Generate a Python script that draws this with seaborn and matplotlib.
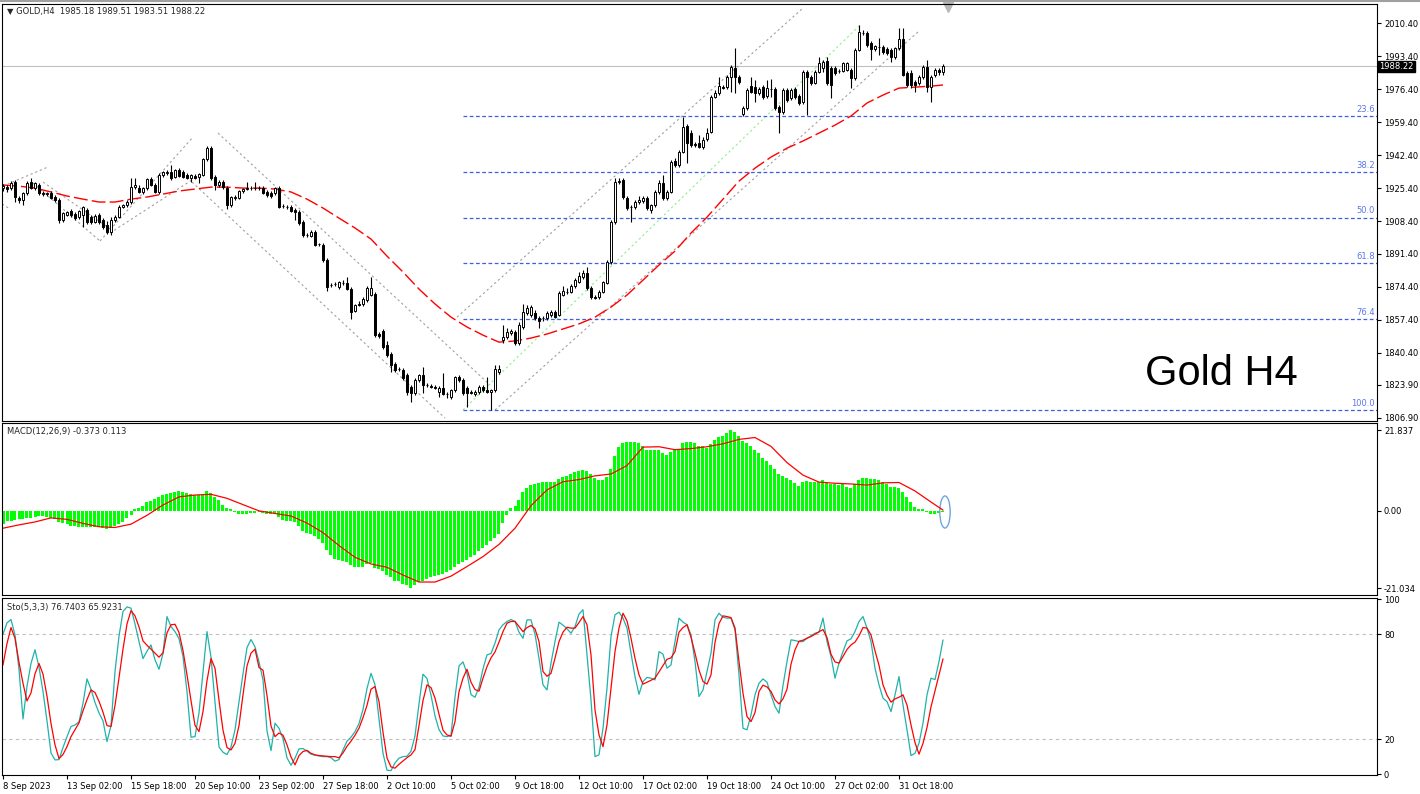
import numpy as np
import pandas as pd
import matplotlib
matplotlib.use("Agg")
import matplotlib.pyplot as plt
import matplotlib.transforms as mtransforms
from matplotlib.patches import Ellipse
from matplotlib.lines import Line2D
import seaborn as sns

# ---- GOLD H4 candles ----
opens = [1925.4, 1925.9, 1925.4, 1928.5, 1920.3, 1919.2, 1922.8, 1928.5, 1925.4, 1927.0,
         1922.8, 1922.3, 1922.8, 1920.8, 1919.2, 1908.9, 1911.5, 1913.6, 1912.0, 1910.5,
         1911.5, 1914.1, 1910.5, 1907.9, 1911.5, 1908.9, 1906.3, 1902.7, 1908.9, 1910.5,
         1915.6, 1916.6, 1918.2, 1925.9, 1925.4, 1923.3, 1925.4, 1930.1, 1927.0, 1923.3,
         1932.1, 1933.2, 1933.7, 1931.1, 1934.7, 1933.7, 1932.1, 1930.6, 1931.6, 1931.1,
         1932.1, 1940.4, 1946.1, 1931.1, 1927.0, 1928.5, 1925.4, 1916.6, 1920.3, 1920.3,
         1923.9, 1924.9, 1925.4, 1925.4, 1925.2, 1925.4, 1923.3, 1922.8, 1922.8, 1925.4,
         1916.1, 1915.6, 1915.6, 1914.1, 1913.0, 1907.9, 1901.2, 1900.6, 1902.7, 1896.5,
         1896.0, 1888.3, 1875.4, 1875.9, 1874.3, 1876.4, 1876.4, 1873.3, 1861.9, 1865.6,
         1865.6, 1867.6, 1870.2, 1870.7, 1850.1, 1851.6, 1844.4, 1839.8, 1834.6, 1832.0,
         1831.5, 1828.9, 1822.7, 1819.6, 1826.3, 1828.9, 1823.8, 1823.3, 1822.7, 1820.1,
         1822.2, 1819.1, 1817.6, 1821.2, 1827.9, 1826.3, 1822.2, 1820.1, 1819.1, 1820.1,
         1822.7, 1821.2, 1820.1, 1821.2, 1830.5, 1847.0, 1848.5, 1850.6, 1851.1, 1845.4,
         1853.7, 1860.9, 1859.9, 1860.9, 1858.3, 1858.3, 1858.3, 1859.9, 1861.4, 1859.9,
         1870.2, 1871.7, 1871.7, 1874.8, 1876.9, 1879.5, 1881.6, 1873.8, 1869.2, 1869.2,
         1871.7, 1876.4, 1887.2, 1907.9, 1928.5, 1929.5, 1920.3, 1915.6, 1915.6, 1918.2,
         1918.7, 1920.3, 1914.1, 1916.6, 1923.3, 1928.0, 1920.3, 1923.3, 1939.3, 1937.3,
         1944.0, 1957.4, 1953.8, 1948.1, 1948.6, 1946.6, 1950.7, 1954.3, 1972.4, 1974.4,
         1977.5, 1977.5, 1982.7, 1987.3, 1982.7, 1963.6, 1966.7, 1978.0, 1977.5, 1974.4,
         1977.5, 1972.9, 1976.5, 1976.5, 1967.2, 1964.6, 1976.0, 1971.9, 1976.5, 1972.9,
         1969.8, 1985.3, 1982.7, 1979.6, 1985.3, 1987.3, 1990.9, 1987.3, 1987.3, 1985.8,
         1985.8, 1986.3, 1986.3, 1982.2, 1996.6, 2005.4, 2005.4, 2000.2, 1997.1, 1998.2,
         1998.2, 1997.1, 1996.6, 1993.0, 1997.7, 2002.3, 1984.8, 1984.8, 1980.1, 1979.6,
         1982.7, 1987.8, 1977.5, 1983.7, 1986.3, 1985.18]
highs = [1927.5, 1927.0, 1929.0, 1929.5, 1921.3, 1923.3, 1929.0, 1930.6, 1928.5, 1928.0,
         1923.9, 1923.3, 1923.9, 1921.8, 1920.3, 1913.0, 1913.6, 1914.6, 1913.0, 1914.1,
         1916.1, 1915.1, 1911.5, 1912.0, 1912.5, 1909.9, 1908.4, 1910.5, 1911.5, 1916.6,
         1917.2, 1919.2, 1930.6, 1930.6, 1927.0, 1925.9, 1930.6, 1931.1, 1928.0, 1933.2,
         1934.2, 1934.7, 1937.3, 1935.2, 1935.7, 1934.7, 1933.2, 1932.6, 1932.6, 1933.2,
         1940.9, 1947.1, 1947.1, 1932.1, 1929.5, 1929.5, 1926.4, 1921.3, 1921.8, 1924.4,
         1925.4, 1928.5, 1926.4, 1928.5, 1926.4, 1926.4, 1924.4, 1923.9, 1925.9, 1926.4,
         1917.2, 1916.6, 1916.6, 1915.1, 1914.1, 1908.9, 1902.2, 1903.7, 1903.7, 1897.0,
         1897.0, 1889.3, 1876.4, 1876.9, 1877.4, 1877.9, 1879.5, 1874.3, 1865.6, 1867.1,
         1869.2, 1874.8, 1879.5, 1871.7, 1851.1, 1852.7, 1846.5, 1840.8, 1835.6, 1833.0,
         1832.5, 1829.9, 1823.8, 1827.4, 1829.4, 1833.0, 1824.8, 1824.3, 1823.8, 1823.3,
         1829.9, 1820.1, 1821.7, 1828.4, 1828.9, 1827.4, 1823.3, 1821.2, 1821.2, 1823.8,
         1823.8, 1827.9, 1821.7, 1834.1, 1834.1, 1854.7, 1853.2, 1852.7, 1852.1, 1856.3,
         1865.6, 1865.0, 1865.0, 1862.5, 1859.4, 1859.4, 1861.9, 1862.5, 1862.5, 1872.3,
         1874.8, 1873.8, 1875.9, 1879.0, 1882.1, 1883.1, 1884.6, 1874.8, 1870.2, 1872.8,
         1877.4, 1888.3, 1908.9, 1930.6, 1930.6, 1930.6, 1921.3, 1916.6, 1919.2, 1921.3,
         1921.3, 1921.3, 1917.2, 1924.4, 1929.5, 1932.1, 1924.4, 1939.9, 1940.9, 1945.0,
         1962.0, 1958.4, 1955.3, 1949.2, 1952.8, 1951.7, 1956.4, 1973.4, 1976.0, 1982.7,
         1978.6, 1983.7, 1988.9, 1997.7, 1983.7, 1967.7, 1977.0, 1982.7, 1981.2, 1977.5,
         1978.6, 1981.2, 1981.7, 1977.5, 1968.2, 1977.0, 1977.0, 1977.0, 1977.5, 1973.9,
         1986.3, 1986.3, 1983.7, 1986.3, 1993.0, 1991.4, 1993.0, 1988.4, 1988.4, 1986.8,
         1990.4, 1990.4, 1987.3, 1997.7, 2009.5, 2006.9, 2006.4, 2001.3, 1999.2, 2002.8,
         1999.2, 1998.2, 1997.7, 1998.2, 2008.0, 2008.0, 1985.8, 1986.3, 1981.2, 1983.7,
         1988.9, 1991.4, 1983.7, 1987.3, 1987.3, 1989.51]
lows = [1923.9, 1923.3, 1924.4, 1918.2, 1917.7, 1916.6, 1921.8, 1924.9, 1924.4, 1921.8,
        1921.3, 1921.3, 1919.7, 1918.2, 1907.4, 1907.9, 1911.0, 1910.5, 1908.9, 1909.4,
        1905.3, 1906.8, 1906.8, 1907.4, 1906.8, 1904.3, 1901.7, 1901.2, 1907.9, 1909.9,
        1915.1, 1915.6, 1917.2, 1924.9, 1922.8, 1922.3, 1924.4, 1926.4, 1922.8, 1922.3,
        1931.1, 1932.1, 1929.5, 1930.6, 1931.1, 1930.6, 1930.1, 1928.5, 1930.1, 1928.0,
        1931.6, 1939.3, 1929.5, 1924.4, 1925.9, 1924.9, 1914.6, 1915.6, 1919.2, 1919.7,
        1922.8, 1924.4, 1924.4, 1924.4, 1924.4, 1922.3, 1920.8, 1920.3, 1921.8, 1915.1,
        1915.1, 1914.6, 1913.0, 1908.9, 1906.3, 1900.1, 1900.1, 1900.1, 1895.5, 1895.5,
        1887.2, 1872.3, 1874.3, 1874.8, 1873.3, 1875.4, 1872.8, 1857.8, 1861.4, 1864.5,
        1864.5, 1866.6, 1869.7, 1848.5, 1848.0, 1842.3, 1838.2, 1830.5, 1830.5, 1831.0,
        1826.3, 1818.6, 1815.0, 1818.6, 1825.3, 1819.6, 1822.7, 1822.2, 1821.7, 1817.6,
        1818.6, 1817.0, 1816.5, 1820.1, 1825.3, 1818.6, 1812.4, 1819.1, 1818.1, 1819.1,
        1820.1, 1819.6, 1810.9, 1820.1, 1829.4, 1845.4, 1847.5, 1849.6, 1844.4, 1844.4,
        1852.7, 1859.9, 1858.8, 1857.3, 1853.2, 1856.8, 1857.3, 1858.8, 1858.3, 1859.4,
        1869.7, 1870.7, 1871.2, 1873.8, 1876.4, 1878.5, 1872.8, 1868.1, 1868.1, 1868.1,
        1871.2, 1875.9, 1886.2, 1906.8, 1927.5, 1919.7, 1914.1, 1907.9, 1914.6, 1917.2,
        1917.7, 1914.1, 1912.5, 1915.6, 1922.3, 1919.2, 1919.2, 1922.8, 1936.3, 1936.3,
        1943.5, 1938.3, 1946.6, 1946.6, 1946.1, 1945.5, 1949.7, 1953.8, 1971.9, 1973.4,
        1976.5, 1976.5, 1975.0, 1974.4, 1979.1, 1962.6, 1965.7, 1974.4, 1969.8, 1973.4,
        1971.3, 1971.9, 1972.4, 1965.7, 1953.8, 1963.6, 1969.8, 1970.8, 1971.3, 1968.2,
        1968.8, 1963.1, 1978.6, 1979.1, 1984.8, 1985.3, 1978.6, 1971.9, 1983.7, 1984.8,
        1985.3, 1985.8, 1977.0, 1981.2, 1996.1, 2004.4, 1998.2, 1991.4, 1996.1, 1994.0,
        1994.6, 1994.0, 1990.4, 1992.0, 1996.6, 1983.2, 1977.5, 1977.0, 1975.0, 1978.6,
        1981.7, 1975.0, 1969.8, 1982.7, 1983.7, 1983.51]
closes = [1926.4, 1924.9, 1928.0, 1920.8, 1919.2, 1922.8, 1928.0, 1925.4, 1928.0, 1922.8,
          1922.3, 1922.8, 1920.3, 1919.2, 1908.9, 1912.5, 1913.0, 1911.5, 1909.9, 1913.6,
          1915.6, 1907.9, 1907.9, 1911.0, 1907.9, 1905.3, 1902.7, 1908.9, 1910.5, 1915.6,
          1916.6, 1918.2, 1925.9, 1927.0, 1923.3, 1925.4, 1930.1, 1927.0, 1923.3, 1932.1,
          1933.7, 1933.7, 1930.6, 1934.7, 1931.6, 1931.1, 1930.6, 1932.1, 1930.6, 1932.6,
          1940.4, 1946.1, 1930.6, 1927.0, 1928.5, 1925.9, 1916.6, 1920.8, 1920.8, 1923.9,
          1924.9, 1925.4, 1925.6, 1925.2, 1925.6, 1922.8, 1921.8, 1921.3, 1925.4, 1915.6,
          1915.9, 1915.4, 1913.6, 1913.0, 1907.4, 1901.2, 1901.0, 1902.7, 1896.0, 1896.3,
          1888.3, 1874.3, 1875.2, 1875.7, 1876.9, 1876.2, 1873.3, 1861.4, 1865.0, 1865.3,
          1868.1, 1873.8, 1873.8, 1849.6, 1849.0, 1843.4, 1839.3, 1834.1, 1831.5, 1831.8,
          1827.4, 1820.1, 1819.6, 1826.3, 1828.9, 1823.8, 1823.6, 1822.7, 1822.2, 1822.2,
          1819.1, 1818.9, 1821.2, 1827.9, 1826.3, 1819.6, 1819.6, 1819.9, 1820.1, 1822.7,
          1821.2, 1820.1, 1821.2, 1832.0, 1832.0, 1848.5, 1851.1, 1851.6, 1845.4, 1854.7,
          1861.4, 1863.5, 1864.0, 1858.3, 1856.8, 1858.1, 1860.9, 1861.4, 1858.8, 1871.2,
          1872.3, 1871.9, 1874.8, 1877.9, 1880.0, 1881.6, 1873.8, 1869.2, 1868.7, 1871.7,
          1876.9, 1887.2, 1907.9, 1928.5, 1929.0, 1920.8, 1915.1, 1915.4, 1918.2, 1919.2,
          1920.3, 1915.1, 1916.6, 1923.3, 1928.0, 1920.3, 1923.3, 1938.8, 1937.3, 1944.0,
          1956.9, 1948.6, 1947.6, 1947.4, 1946.6, 1950.2, 1953.8, 1972.4, 1974.4, 1978.0,
          1977.3, 1982.7, 1987.8, 1982.7, 1980.1, 1966.7, 1976.0, 1975.0, 1974.4, 1976.5,
          1972.4, 1977.0, 1976.3, 1966.7, 1964.6, 1976.0, 1970.8, 1976.0, 1972.4, 1969.3,
          1985.3, 1982.7, 1979.6, 1985.3, 1989.9, 1990.4, 1979.6, 1978.6, 1984.8, 1985.6,
          1989.9, 1989.9, 1982.2, 1996.6, 2005.9, 2005.2, 1999.2, 1997.1, 1998.7, 1998.0,
          1995.6, 1995.1, 1993.0, 1997.7, 2002.3, 1983.7, 1978.6, 1978.6, 1978.6, 1982.7,
          1987.8, 1977.5, 1982.7, 1986.3, 1985.2, 1988.22]

# moving average (red dashed), read every 4th bar + last bar
ma_values = [1927.0, 1926.4, 1925.4, 1923.4, 1921.3, 1919.7, 1918.2, 1918.2, 1919.7, 1920.8,
             1922.3, 1923.9, 1924.9, 1925.9, 1925.9, 1925.4, 1925.4, 1924.9, 1923.4, 1919.7,
             1915.1, 1909.9, 1904.8, 1899.1, 1890.3, 1882.1, 1873.3, 1865.6, 1858.8, 1853.7,
             1849.5, 1845.9, 1846.5, 1848.0, 1850.1, 1852.7, 1855.3, 1858.8, 1864.0, 1870.2,
             1877.9, 1885.7, 1892.9, 1902.2, 1910.4, 1919.7, 1929.0, 1935.7, 1941.4, 1946.0,
             1949.7, 1953.8, 1957.9, 1962.6, 1969.3, 1973.4, 1977.0, 1977.5, 1978.0, 1978.6]

# MACD(12,26,9)
macd_hist = [-3.7, -2.8, -2.8, -2.6, -2.3, -2.2, -2.0, -1.9, -1.7, -1.6,
             -1.6, -1.8, -1.9, -2.2, -3.0, -3.4, -3.7, -4.1, -4.3, -4.5,
             -4.5, -4.6, -4.6, -4.6, -4.5, -4.8, -5.1, -4.8, -4.3, -3.7,
             -3.0, -2.0, -1.2, 0.4, 0.6, 1.3, 2.2, 2.6, 3.1, 3.6,
             4.2, 4.5, 4.7, 5.0, 5.2, 5.0, 4.7, 4.5, 4.3, 4.1,
             4.5, 5.4, 4.7, 3.6, 2.9, 1.5, 0.6, 0.4, -0.3, -0.9,
             -1.0, -0.9, -0.7, -0.7, -0.5, -0.7, -0.9, -1.0, -0.9, -1.8,
             -2.5, -2.8, -2.9, -3.2, -4.3, -5.6, -6.2, -6.5, -7.0, -7.7,
             -8.8, -10.8, -12.2, -13.1, -13.5, -13.8, -14.0, -14.9, -15.3, -15.3,
             -15.2, -14.5, -14.2, -15.6, -15.8, -16.5, -17.4, -18.1, -19.0, -19.2,
             -19.9, -20.3, -21.0, -20.1, -19.4, -19.0, -18.6, -18.1, -17.8, -17.6,
             -17.2, -16.7, -16.2, -15.2, -14.5, -14.1, -13.4, -12.6, -12.0, -11.1,
             -10.1, -9.3, -8.4, -7.5, -6.4, -3.3, -1.2, 0.6, 1.2, 2.9,
             4.9, 6.0, 6.9, 7.2, 7.4, 7.6, 7.6, 7.8, 7.6, 8.5,
             9.0, 9.3, 9.9, 10.4, 10.8, 11.0, 10.8, 9.9, 8.8, 8.3,
             8.3, 9.0, 11.3, 14.9, 17.2, 18.3, 18.5, 18.5, 18.5, 18.2,
             17.6, 16.5, 16.4, 16.3, 16.3, 15.5, 15.1, 15.8, 16.3, 16.4,
             18.2, 18.7, 18.5, 18.2, 17.6, 17.4, 16.9, 18.1, 19.0, 19.9,
             20.3, 20.9, 21.8, 21.2, 20.3, 18.8, 18.3, 17.4, 16.3, 15.5,
             14.2, 13.3, 12.3, 11.2, 9.8, 9.4, 8.7, 8.3, 7.5, 6.7,
             7.6, 8.0, 7.8, 7.8, 7.8, 8.3, 7.5, 7.3, 7.3, 7.0,
             7.3, 6.5, 6.0, 7.1, 8.2, 8.8, 8.8, 8.6, 8.6, 8.3,
             7.8, 7.2, 6.5, 6.5, 6.2, 5.0, 3.7, 2.3, 1.0, 0.5,
             0.3, -0.5, -1.0, -1.0, -0.7, -0.373]
# signal line, read every 4th bar + last bar
macd_signal = [-4.8, -3.9, -3.1, -2.0, -2.4, -3.5, -4.4, -4.6, -3.7, -1.3,
               1.5, 3.7, 4.2, 4.4, 3.3, 1.6, -0.1, -0.8, -1.5, -3.4,
               -6.0, -9.5, -12.7, -14.5, -15.4, -17.5, -19.4, -19.4, -17.8, -15.2,
               -12.5, -9.2, -4.8, 1.3, 5.6, 7.8, 8.4, 9.4, 9.9, 12.2,
               17.2, 17.3, 16.5, 16.8, 17.3, 18.1, 19.3, 19.8, 17.4, 13.0,
               9.6, 7.7, 7.4, 7.2, 6.9, 7.5, 7.6, 5.3, 2.3, 0.113]

# Stochastic(5,3,3)
stoch_main = [80.0, 86.5, 88.4, 79.6, 59.8, 31.6, 50.3, 63.3, 71.1, 61.2,
              47.3, 30.5, 12.2, 8.2, 8.4, 15.3, 21.5, 27.3, 28.2, 29.9,
              40.6, 54.5, 48.6, 41.0, 35.1, 30.5, 18.7, 27.8, 58.7, 78.9,
              93.0, 95.6, 94.9, 85.9, 75.8, 66.1, 70.3, 73.9, 65.4, 60.0,
              69.0, 90.1, 84.4, 81.5, 77.5, 67.3, 47.1, 21.2, 21.5, 35.1,
              58.3, 81.5, 66.9, 41.5, 15.6, 12.6, 11.3, 15.6, 25.4, 41.4,
              57.4, 72.4, 77.0, 72.8, 64.2, 53.9, 24.8, 13.5, 29.2, 26.3,
              20.4, 9.4, 5.2, 9.2, 14.5, 14.7, 13.2, 11.5, 10.9, 10.5,
              10.1, 10.1, 9.5, 7.5, 8.4, 13.9, 18.9, 21.2, 24.4, 29.0,
              37.0, 49.0, 57.7, 51.1, 31.3, 12.0, 2.3, 2.1, 6.5, 9.2,
              10.1, 10.3, 13.2, 21.9, 40.2, 57.2, 54.7, 45.2, 33.4, 25.5,
              21.9, 21.5, 22.3, 44.0, 61.9, 64.2, 57.7, 45.5, 44.0, 49.7,
              60.2, 68.2, 69.0, 74.9, 82.5, 85.4, 87.3, 88.4, 87.3, 81.2,
              77.7, 88.2, 88.2, 80.0, 66.3, 51.1, 48.2, 63.5, 75.8, 86.9,
              85.2, 83.1, 80.6, 84.4, 91.5, 94.0, 68.2, 42.5, 10.1, 11.1,
              26.3, 49.2, 78.7, 91.1, 92.6, 89.2, 83.5, 69.2, 55.8, 45.7,
              53.0, 55.3, 54.9, 53.9, 70.1, 68.6, 60.6, 62.5, 75.8, 89.2,
              86.9, 85.5, 79.6, 64.4, 44.4, 48.2, 58.7, 69.2, 88.2, 92.0,
              89.7, 89.2, 89.2, 82.5, 56.8, 26.3, 25.4, 33.9, 45.4, 52.0,
              54.5, 52.6, 45.4, 38.7, 34.9, 50.7, 64.4, 76.8, 76.4, 75.8,
              75.8, 77.7, 79.1, 80.6, 81.2, 89.2, 75.8, 67.3, 54.9, 63.5,
              70.1, 76.2, 77.4, 81.5, 87.3, 90.1, 83.5, 75.8, 60.6, 51.1,
              43.5, 41.5, 35.8, 45.4, 55.8, 39.6, 25.4, 10.7, 12.0, 17.7,
              29.2, 45.4, 54.9, 54.1, 64.4, 76.74]
stoch_signal = [62.5, 74.7, 83.8, 77.7, 64.0, 52.0, 41.9, 46.5, 57.4, 63.3,
                57.2, 44.6, 29.0, 16.8, 9.0, 11.3, 15.8, 21.5, 25.4, 29.4,
                36.2, 42.7, 48.2, 46.7, 41.7, 35.5, 27.8, 27.3, 39.3, 55.1,
                71.5, 85.9, 93.5, 90.5, 84.2, 76.2, 73.7, 71.5, 69.2, 66.9,
                69.4, 80.8, 85.4, 85.7, 81.0, 70.7, 56.8, 42.1, 28.0, 24.4,
                35.8, 53.5, 66.1, 60.6, 42.3, 25.2, 15.3, 13.9, 17.7, 27.8,
                45.4, 61.9, 69.2, 71.5, 61.0, 59.5, 45.0, 27.6, 21.5, 23.6,
                22.3, 16.8, 9.9, 5.4, 10.7, 13.0, 13.7, 12.0, 11.1, 10.7,
                10.5, 10.3, 10.1, 10.1, 9.4, 12.2, 16.0, 18.9, 22.3, 26.3,
                32.4, 39.4, 48.6, 50.1, 41.5, 24.0, 9.4, 4.2, 3.5, 5.7,
                7.6, 9.5, 11.1, 14.1, 27.8, 42.1, 51.1, 49.5, 43.5, 34.3,
                25.2, 22.5, 21.7, 30.1, 47.1, 54.9, 60.0, 52.6, 48.4, 47.5,
                54.9, 61.5, 66.5, 69.9, 75.5, 81.5, 86.3, 87.3, 87.3, 84.4,
                81.5, 83.8, 85.0, 83.1, 75.8, 58.7, 56.0, 57.7, 66.3, 75.8,
                81.2, 84.0, 83.5, 83.5, 86.7, 90.1, 85.4, 68.2, 36.8, 22.5,
                15.8, 28.2, 49.2, 70.1, 83.5, 92.0, 87.6, 77.7, 66.3, 56.8,
                51.5, 52.6, 53.7, 54.9, 58.5, 62.1, 65.7, 66.5, 70.1, 81.2,
                83.8, 85.4, 78.3, 69.2, 59.5, 53.0, 51.5, 56.8, 75.3, 86.1,
                90.5, 90.1, 89.5, 83.6, 64.4, 46.3, 33.0, 30.1, 35.3, 47.3,
                50.9, 49.9, 47.3, 42.5, 40.2, 43.1, 48.6, 62.9, 71.1, 76.0,
                76.6, 77.7, 78.7, 80.0, 81.4, 82.7, 78.1, 68.6, 64.2, 63.5,
                67.3, 71.3, 73.9, 75.5, 79.1, 83.8, 83.5, 79.6, 70.5, 62.3,
                51.1, 45.2, 41.2, 43.1, 44.0, 45.4, 39.6, 28.2, 18.1, 11.5,
                17.7, 26.7, 38.5, 47.6, 56.8, 65.92]

date_labels = ['8 Sep 2023', '13 Sep 02:00', '15 Sep 18:00', '20 Sep 10:00', '23 Sep 02:00',
               '27 Sep 18:00', '2 Oct 10:00', '5 Oct 02:00', '9 Oct 18:00', '12 Oct 10:00',
               '17 Oct 02:00', '19 Oct 18:00', '24 Oct 10:00', '27 Oct 02:00', '31 Oct 18:00']
price_ticks = [2010.40, 1993.40, 1976.40, 1959.40, 1942.40, 1925.40, 1908.40,
               1891.40, 1874.40, 1857.40, 1840.40, 1823.90, 1806.90]
last_price = 1988.22

# fibonacci retracement anchors (bar, price)
fib_ratios = [23.6, 38.2, 50.0, 61.8, 76.4, 100.0]
fib_low, fib_high = 1810.9, 2009.5
fib_start_bar, fib_end_bar = 115, 214.25

# channel lines drawn on the chart: (bar0, price0, bar1, price1)
channels = [(0, 1926.4, 11.25, 1936.3), (7.5, 1928.0, 24.25, 1898.1),
            (-0.25, 1917.2, 1.75, 1914.6), (10.0, 1928.5, 27.25, 1903.7),
            (24.25, 1898.1, 47.5, 1951.7), (26.75, 1902.2, 48.0, 1930.6),
            (53.75, 1953.8, 121.75, 1823.8), (47.25, 1928.5, 110.5, 1806.7),
            (113.5, 1858.8, 200.0, 2018.3), (123.0, 1810.9, 229.25, 2006.9)]

# ---- figure ----
sns.set_theme(style="white")
plt.rcParams['font.family'] = ['DejaVu Sans']

W, H = 1420, 794
fig = plt.figure(figsize=(W / 100, H / 100), dpi=100)
fig.add_artist(Line2D([0, 1], [1 - 1 / H, 1 - 1 / H], transform=fig.transFigure,
                      color='#A0A0A0', lw=1.5))

def box(top, bottom):
    return [2 / W, 1 - bottom / H, 1375 / W, (bottom - top) / H]

ax_p = fig.add_axes(box(4, 421))
ax_m = fig.add_axes(box(423, 595))
ax_s = fig.add_axes(box(598, 775))

df = pd.DataFrame({'open': opens, 'high': highs, 'low': lows, 'close': closes})
df['bar'] = np.arange(len(df))
n = len(df)
xlim = (-0.25, 343.5)
small = 6

for ax in (ax_p, ax_m, ax_s):
    ax.set_xlim(*xlim)
    for sp in ax.spines.values():
        sp.set_color('black')
        sp.set_linewidth(0.8)
    ax.set_facecolor('white')

# candles
ax_p.vlines(df['bar'], df['low'], df['high'], color='black', lw=0.8, zorder=3)
up = df['close'] >= df['open']
body_bottom = np.minimum(df['open'], df['close'])
body_h = np.maximum((df['close'] - df['open']).abs(), 0.25)
ax_p.bar(df['bar'][up], body_h[up], bottom=body_bottom[up], width=0.55,
         color='white', edgecolor='black', linewidth=0.7, zorder=4)
ax_p.bar(df['bar'][~up], body_h[~up], bottom=body_bottom[~up], width=0.55,
         color='black', edgecolor='black', linewidth=0.7, zorder=4)

# moving average
ma_bars = list(range(0, n, 4)) + [n - 1]
sns.lineplot(x=ma_bars, y=ma_values, color='red', linewidth=1.0, ax=ax_p, zorder=2)
ax_p.lines[-1].set_dashes([10, 3])

# channels and fibonacci
for b0, p0, b1, p1 in channels:
    ax_p.plot([b0, b1], [p0, p1], color='#A0A0A0', lw=0.8, dashes=[2, 2.5], zorder=1)
ax_p.plot([fib_start_bar, fib_end_bar], [fib_low, fib_high], color='#90EE90',
          lw=0.8, dashes=[2, 2.5], zorder=1)
for r in fib_ratios:
    lvl = fib_high - r / 100 * (fib_high - fib_low)
    ax_p.hlines(lvl, fib_start_bar, xlim[1], colors='#3F5FE0', lw=0.9,
                linestyles=(0, (3, 2)), zorder=1)
    ax_p.text(xlim[1] - 0.6, lvl + 1.2, f'{r:.1f}', color='#5A78E6', fontsize=small,
              ha='right', va='bottom')

ax_p.axhline(last_price, color='#C0C0C0', lw=0.8, zorder=0)
ax_p.set_ylim(1805.2, 2020.4)
ax_p.yaxis.tick_right()
ax_p.set_yticks(price_ticks)
ax_p.set_yticklabels([f'{t:.2f}' for t in price_ticks])
ax_p.set_xticks([])
trans = mtransforms.blended_transform_factory(ax_p.transAxes, ax_p.transData)
ax_p.text(1.0015, last_price, f'{last_price:.2f}', transform=trans, color='white',
          fontsize=small, ha='left', va='center',
          bbox=dict(boxstyle='square,pad=0.15', fc='black', ec='black'))
ax_p.plot([236.3], [2018.6], marker='v', ms=7, color='#B8B8B8', clip_on=False)
ax_p.text(0.0035, 0.983, '\u25bc GOLD,H4  1985.18 1989.51 1983.51 1988.22',
          transform=ax_p.transAxes, fontsize=small, va='center', ha='left')
fig.text(1145 / W, 1 - 385 / H, 'Gold H4', fontsize=30, family='Liberation Sans',
         ha='left', va='baseline', color='black')

# MACD
sns.barplot(x=df['bar'], y=macd_hist, native_scale=True, color='#00FF00', saturation=1,
            width=0.75, errorbar=None, linewidth=0, edgecolor='#00FF00', ax=ax_m)
for patch in ax_m.patches:
    patch.set_facecolor('#00FF00')
    patch.set_edgecolor('none')
sig_bars = list(range(0, n, 4)) + [n - 1]
sns.lineplot(x=sig_bars, y=macd_signal, color='red', linewidth=0.9, ax=ax_m)
ax_m.add_patch(Ellipse((235.5, -0.4), 2.6, 8.7, fill=False, ec='#6CA6E0', lw=1.0))
ax_m.set_xlim(*xlim)
ax_m.set_ylim(-22.92, 23.74)
ax_m.yaxis.tick_right()
ax_m.set_yticks([21.837, 0, -21.034])
ax_m.set_yticklabels(['21.837', '0.00', '-21.034'])
ax_m.set_xticks([])
ax_m.text(0.0035, 0.95, 'MACD(12,26,9) -0.373 0.113', transform=ax_m.transAxes,
          fontsize=small, va='center', ha='left')

# Stochastic
ax_s.axhline(80, color='#C0C0C0', lw=0.8, ls=(0, (3, 3)))
ax_s.axhline(20, color='#C0C0C0', lw=0.8, ls=(0, (3, 3)))
sns.lineplot(x=df['bar'], y=stoch_main, color='#20B2AA', linewidth=0.9, ax=ax_s)
sns.lineplot(x=df['bar'], y=stoch_signal, color='red', linewidth=0.9, ax=ax_s)
ax_s.set_xlim(*xlim)
ax_s.set_ylim(-0.4, 100.7)
ax_s.yaxis.tick_right()
ax_s.set_yticks([100, 80, 20, 0])
ax_s.set_yticklabels(['100', '80', '20', '0'])
ax_s.set_xticks(list(range(0, 16 * len(date_labels), 16)))
ax_s.set_xticklabels(date_labels, ha='left')
ax_s.text(0.0035, 0.945, 'Sto(5,3,3) 76.7403 65.9231', transform=ax_s.transAxes,
          fontsize=small, va='center', ha='left')

for ax in (ax_p, ax_m, ax_s):
    ax.set_xlabel('')
    ax.set_ylabel('')
    ax.tick_params(axis='both', direction='out', length=3, width=0.8, colors='black',
                   labelsize=small, pad=2)
    ax.tick_params(axis='y', right=True, left=False)
    ax.tick_params(axis='x', bottom=True)

fig.savefig('out.png', dpi=100)
